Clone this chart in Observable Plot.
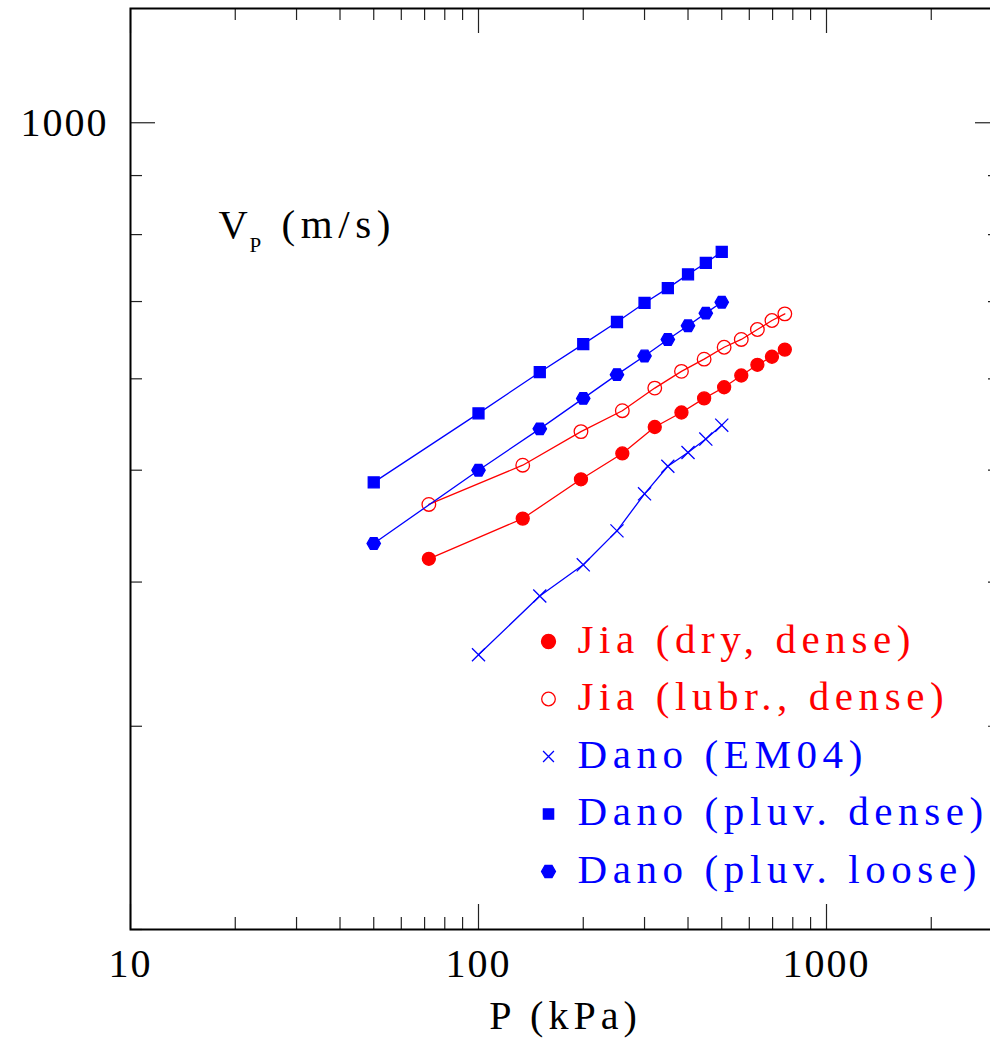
<!DOCTYPE html>
<html><head><meta charset="utf-8">
<script src="https://cdn.jsdelivr.net/npm/d3@7"></script>
<script src="https://cdn.jsdelivr.net/npm/@observablehq/plot@0.6"></script>
<style>
body{margin:0;background:#fff;}
#chart svg{display:block;overflow:hidden;}
g[aria-label="x-axis tick label"] text, g[aria-label="y-axis tick label"] text{letter-spacing:2px;}
g[aria-label="text"] text{letter-spacing:5px;}
g[aria-label="text"][font-size="41"] text{letter-spacing:5.6px;}
g[aria-label="text"][font-size="40.5"] text{letter-spacing:0;}
</style></head><body><div id="chart"></div>
<script>
// ---- data ----
const jiaP     = [72, 134, 197, 259, 321, 383, 445, 508, 569, 633, 697, 759];
const jiaDry   = [419, 454, 491, 517, 545, 561, 577, 590, 604, 617, 627, 636];
const jiaLubr  = [467, 505, 540, 563, 589, 609, 624, 639, 649, 662, 674, 683];
const danoP    = [50, 100, 150, 200, 250, 300, 350, 400, 450, 500];
const danoDense= [488, 560, 608, 643, 672, 698, 719, 739, 756, 773];
const danoLoose= [432, 500, 543, 577, 605, 628, 649, 667, 684, 699];
const em04P    = [100, 150, 200, 250, 300, 350, 400, 450, 500];
const em04V    = [346, 389, 414, 443, 477, 504, 518, 532, 547];
const legendLabels = ["Jia (dry, dense)", "Jia (lubr., dense)", "Dano (EM04)", "Dano (pluv. dense)", "Dano (pluv. loose)"];
const xMajor = [10, 100, 1000];
const xMinor = [20, 30, 40, 50, 60, 70, 80, 90, 200, 300, 400, 500, 600, 700, 800, 900, 2000, 3000];
const yMajor = [1000];
const yMinor = [200, 300, 400, 500, 600, 700, 800, 900];
const xLabel = "P (kPa)";
const yLabelMain = "V", yLabelSub = "P", yLabelUnit = "(m/s)";

// ---- styles ----
const RED = "#ff0000", BLUE = "#0000ff";
const hexFlat = {draw(ctx, size){const r=Math.sqrt(size/Math.PI), h=r*Math.sqrt(3)/2;
  ctx.moveTo(r,0);ctx.lineTo(r/2,h);ctx.lineTo(-r/2,h);ctx.lineTo(-r,0);ctx.lineTo(-r/2,-h);ctx.lineTo(r/2,-h);ctx.closePath();}};

const series = [
  {label: legendLabels[0], P: jiaP, V: jiaDry, color: RED, symbol: "circle", filled: true, r: 6.5, lr: 7},
  {label: legendLabels[1], P: jiaP, V: jiaLubr, color: RED, symbol: "circle", filled: false, r: 6.8, lr: 6.8},
  {label: legendLabels[2], P: em04P, V: em04V, color: BLUE, symbol: "times", filled: false, r: 6, lr: 5},
  {label: legendLabels[3], P: danoP, V: danoDense, color: BLUE, symbol: "square", filled: true, r: 6.2, lr: 5.8},
  {label: legendLabels[4], P: danoP, V: danoLoose, color: BLUE, symbol: hexFlat, filled: true, r: 6.7, lr: 7}
];

const W = 990, H = 1038, mL = 130, mR = -10, mT = 8, mB = 109;
const innerW = W - mL - mR, innerH = H - mT - mB;

const marks = [];
// ticks (inward)
marks.push(Plot.tickX(xMinor, {x: d => d, insetTop: innerH - 12, stroke: "#222", strokeWidth: 1.2}));
marks.push(Plot.tickX(xMajor, {x: d => d, insetTop: innerH - 25, stroke: "#222", strokeWidth: 1.2}));
marks.push(Plot.tickX(xMinor, {x: d => d, insetBottom: innerH - 12, stroke: "#222", strokeWidth: 1.2}));
marks.push(Plot.tickX(xMajor, {x: d => d, insetBottom: innerH - 25, stroke: "#222", strokeWidth: 1.2}));
marks.push(Plot.tickY(yMinor, {y: d => d, insetRight: innerW - 12, stroke: "#222", strokeWidth: 1.2}));
marks.push(Plot.tickY(yMajor, {y: d => d, insetRight: innerW - 25, stroke: "#222", strokeWidth: 1.2}));
marks.push(Plot.tickY(yMinor, {y: d => d, insetLeft: innerW - 12, stroke: "#222", strokeWidth: 1.2}));
marks.push(Plot.tickY(yMajor, {y: d => d, insetLeft: innerW - 25, stroke: "#222", strokeWidth: 1.2}));
marks.push(Plot.frame({stroke: "black", strokeWidth: 2}));
// tick labels
marks.push(Plot.axisX({ticks: xMajor, tickSize: 0, tickPadding: 19, fontSize: 40, label: null, tickFormat: d => String(d), fill: "black"}));
marks.push(Plot.axisY({ticks: yMajor, tickSize: 0, tickPadding: 22, fontSize: 40, label: null, tickFormat: d => String(d), fill: "black"}));

// data
for (const s of series) {
  const rows = s.P.map((p, i) => ({p, v: s.V[i]}));
  marks.push(Plot.line(rows, {x: "p", y: "v", stroke: s.color, strokeWidth: 1.3}));
  marks.push(Plot.dot(rows, {x: "p", y: "v", symbol: s.symbol, r: s.r, fill: s.filled ? s.color : "none", stroke: s.color, strokeWidth: 1.3}));
}
// legend
series.forEach((s, i) => {
  marks.push(Plot.dot([0], {frameAnchor: "top-left", dx: 418, dy: 633 + 57.5 * i, symbol: s.symbol, r: s.lr, fill: s.filled ? s.color : "none", stroke: s.color, strokeWidth: 1.3}));
  marks.push(Plot.text([s.label], {frameAnchor: "top-left", dx: 447, dy: 644 + 57.5 * i, text: d => d, textAnchor: "start", lineAnchor: "bottom", fontSize: 41, fill: s.color}));
});
// axis titles
marks.push(Plot.text([yLabelMain], {frameAnchor: "top-left", dx: 88, dy: 229, text: d => d, textAnchor: "start", lineAnchor: "bottom", fontSize: 40.5, fill: "black"}));
marks.push(Plot.text([yLabelSub], {frameAnchor: "top-left", dx: 119, dy: 243, text: d => d, textAnchor: "start", lineAnchor: "bottom", fontSize: 21, fill: "black"}));
marks.push(Plot.text([yLabelUnit], {frameAnchor: "top-left", dx: 151, dy: 229, text: d => d, textAnchor: "start", lineAnchor: "bottom", fontSize: 41, fill: "black"}));
marks.push(Plot.text([xLabel], {frameAnchor: "bottom", dy: 99, text: d => d, textAnchor: "middle", lineAnchor: "bottom", fontSize: 40, fill: "black"}));

const chart = Plot.plot({
  width: W, height: H,
  marginLeft: mL, marginRight: mR, marginTop: mT, marginBottom: mB,
  style: {fontFamily: "'Liberation Serif', serif", background: "white", color: "black"},
  x: {type: "log", domain: [10, Math.pow(10, 3.5)], axis: null},
  y: {type: "log", domain: [200, 1256], axis: null},
  marks
});
document.getElementById("chart").appendChild(chart);
</script></body></html>
